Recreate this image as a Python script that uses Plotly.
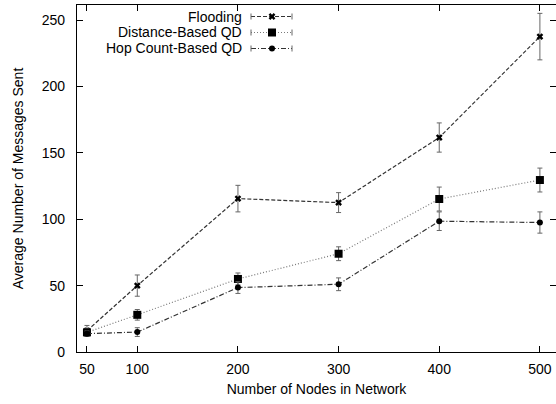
import plotly.graph_objects as go

# ---- data ----
nodes = [50, 100, 200, 300, 400, 500]
flooding = [16, 50, 115.5, 112.5, 161.5, 237.5]
flooding_err = [4, 8, 10, 7.5, 11, 17.5]
distance_qd = [14.8, 28, 55, 74, 115.2, 129.5]
distance_err = [3, 4, 4.5, 5.2, 9, 9]
hop_qd = [13.8, 15, 48.5, 51, 98.5, 97.5]
hop_err = [2, 3.3, 4.4, 4.8, 7, 8]
series_names = ["Flooding", "Distance-Based QD", "Hop Count-Based QD"]
x_ticks = [50, 100, 200, 300, 400, 500]
y_ticks = [0, 50, 100, 150, 200, 250]

FONT = "Liberation Sans, Arial, sans-serif"
FS = 14
W, H = 556, 404
ML, MR, MT, MB = 77, 0, 5, 52

styles = [
    dict(dash="4px,2px", lcolor="#333333", symbol="x", msize=6),
    dict(dash="1px,2px", lcolor="#7a7a7a", symbol="square", msize=8),
    dict(dash="5px,2px,1px,2px", lcolor="#333333", symbol="circle", msize=6),
]
values = [flooding, distance_qd, hop_qd]
errors = [flooding_err, distance_err, hop_err]

fig = go.Figure()
for name, v, e, s in zip(series_names, values, errors, styles):
    fig.add_trace(go.Scatter(
        x=nodes, y=v, name=name, mode="lines+markers",
        line=dict(color=s["lcolor"], width=1.2, dash=s["dash"]),
        marker=dict(color="black", symbol=s["symbol"], size=s["msize"],
                    line=dict(width=0)),
        error_y=dict(type="data", array=e, visible=True, color="#666666",
                     thickness=1, width=2.5),
        showlegend=False,
    ))

# ---- custom gnuplot-style key (text right-aligned, sample on right) ----
pw = W - ML - MR
ph = H - MT - MB
def px_x(px):
    return (px - ML) / pw
def px_y(py):
    return (H - MB - py) / ph

key_rows = [16.5, 32.5, 48.5]
text_right = 243
sample_l, sample_r, sample_m = 251, 292, 272
for name, s, ry in zip(series_names, styles, key_rows):
    fig.add_annotation(x=px_x(text_right), y=px_y(ry), xref="paper", yref="paper",
                       text=name, showarrow=False, xanchor="right", yanchor="middle",
                       borderpad=0,
                       font=dict(family=FONT, size=FS, color="black"))
    fig.add_trace(go.Scatter(
        x=[px_x(sample_l), px_x(sample_r)], y=[px_y(ry), px_y(ry)],
        xaxis="x2", yaxis="y2", mode="lines",
        line=dict(color=s["lcolor"], width=1.2, dash=s["dash"]),
        showlegend=False, hoverinfo="skip"))
    fig.add_trace(go.Scatter(
        x=[px_x(sample_m)], y=[px_y(ry)], xaxis="x2", yaxis="y2", mode="markers",
        marker=dict(color="black", symbol=s["symbol"], size=s["msize"], line=dict(width=0)),
        showlegend=False, hoverinfo="skip"))
    for ex in (sample_l, sample_r):
        fig.add_shape(type="line", xref="paper", yref="paper",
                      x0=px_x(ex), x1=px_x(ex), y0=px_y(ry - 3), y1=px_y(ry + 3),
                      line=dict(color="#666666", width=1))

axis_common = dict(
    showline=True, linecolor="black", linewidth=1.3, mirror="ticks",
    ticks="inside", ticklen=6, tickcolor="black", tickwidth=1,
    showgrid=False, zeroline=False,
    tickfont=dict(family=FONT, size=FS, color="black"),
)

fig.update_layout(
    width=W, height=H,
    margin=dict(l=ML, r=MR, t=MT, b=MB),
    paper_bgcolor="white", plot_bgcolor="white",
    font=dict(family=FONT, size=FS, color="black"),
    xaxis=dict(range=[40.1, 516], tickvals=x_ticks, ticktext=[str(t) for t in x_ticks],
               title=dict(text="Number of Nodes in Network", standoff=8,
                          font=dict(family=FONT, size=FS)),
               ticklabelstandoff=4, **axis_common),
    yaxis=dict(range=[0, 261.3], tickvals=y_ticks,
               title=dict(text="Average Number of Messages Sent", standoff=14,
                          font=dict(family=FONT, size=FS)),
               ticklabelstandoff=8, **axis_common),
    xaxis2=dict(overlaying="x", range=[0, 1], visible=False, fixedrange=True),
    yaxis2=dict(overlaying="y", range=[0, 1], visible=False, fixedrange=True),
    showlegend=False,
)

fig.write_html("out.html")
